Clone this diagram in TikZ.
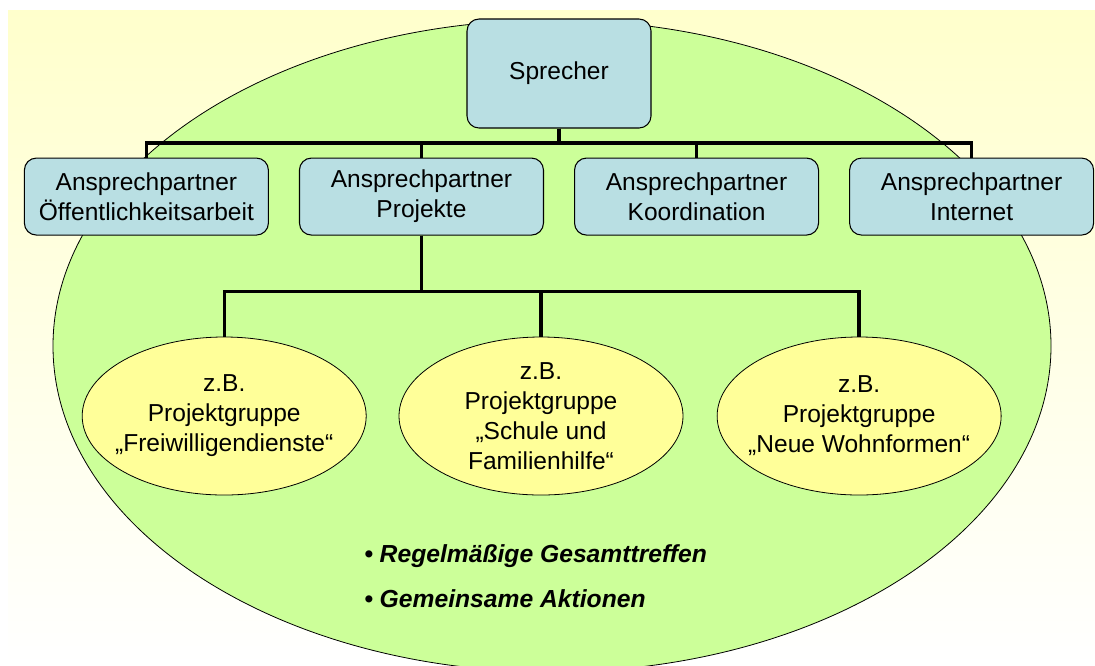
\documentclass[tikz,border=0pt]{standalone}
\usepackage{fontspec}
\setmainfont{Liberation Sans}
\usetikzlibrary{shapes.geometric, positioning}

\definecolor{boxblue}{RGB}{185,223,227}
\definecolor{teamgreen}{RGB}{204,255,153}
\definecolor{groupyellow}{RGB}{255,255,153}
\definecolor{paleyellow}{RGB}{255,255,204}

\begin{document}
\begin{tikzpicture}[
    x=0.75pt, y=-0.75pt,
    font=\fontsize{18.4}{22.5}\selectfont,
    role/.style={rectangle, rounded corners=9pt, minimum width=183pt, minimum height=57.75pt, inner sep=0pt, text centered, align=center, draw=black, line width=0.8pt, fill=boxblue},
    group/.style={ellipse, minimum width=213pt, minimum height=118.5pt, inner xsep=-8pt, inner ysep=-3pt, align=center, draw=black, line width=0.6pt, fill=groupyellow},
    team/.style={ellipse, minimum width=748.5pt, minimum height=489pt, draw=black, line width=0.6pt, fill=teamgreen},
    note/.style={anchor=base west, inner sep=0pt, font=\fontsize{18.5}{22.5}\selectfont\bfseries\itshape},
    link/.style={line width=2.5pt},
]

    \useasboundingbox (0,0) rectangle (1095,665);
    \clip (0,0) rectangle (1095,665);
    \fill [top color=paleyellow, middle color=paleyellow!60!white, bottom color=white] (8,10) rectangle (1095,665);

    \node (team) [team] at (552,346) {};

    \node (sprecher) [role, minimum width=138pt, minimum height=81.75pt] at (559,73.5) {Sprecher};
    \node (koord) [role, below right=21.75pt and 11.25pt of sprecher.south] {Ansprechpartner\\Koordination};
    \node (proj) [role, left=22.5pt of koord] {Ansprechpartner\\Projekte};
    \node (oeff) [role, left=22.5pt of proj] {Ansprechpartner\\Öffentlichkeitsarbeit};
    \node (inet) [role, right=22.5pt of koord] {Ansprechpartner\\Internet};

    \node (grp2) [group] at (541,416) {z.B.\\Projektgruppe\\„Schule und\\Familienhilfe“};
    \node (grp1) [group, left=24pt of grp2] {z.B.\\Projektgruppe\\„Freiwilligendienste“};
    \node (grp3) [group, right=25pt of grp2] {z.B.\\Projektgruppe\\„Neue Wohnformen“};

    \node (treffen) [note] at (364,562) {• Regelmäßige Gesamttreffen};
    \node (aktionen) [note] at (364,607) {• Gemeinsame Aktionen};

    \draw [link] (sprecher.south) -- ++(0,14.5) -| (oeff.north);
    \draw [link] (sprecher.south) -- ++(0,14.5) -| (proj.north);
    \draw [link] (sprecher.south) -- ++(0,14.5) -| (koord.north);
    \draw [link] (sprecher.south) -- ++(0,14.5) -| (inet.north);

    \draw [link] (proj.south) -- ++(0,56) -| (grp1.north);
    \draw [link] (proj.south) -- ++(0,56) -| (grp2.north);
    \draw [link] (proj.south) -- ++(0,56) -| (grp3.north);

\end{tikzpicture}
\end{document}
